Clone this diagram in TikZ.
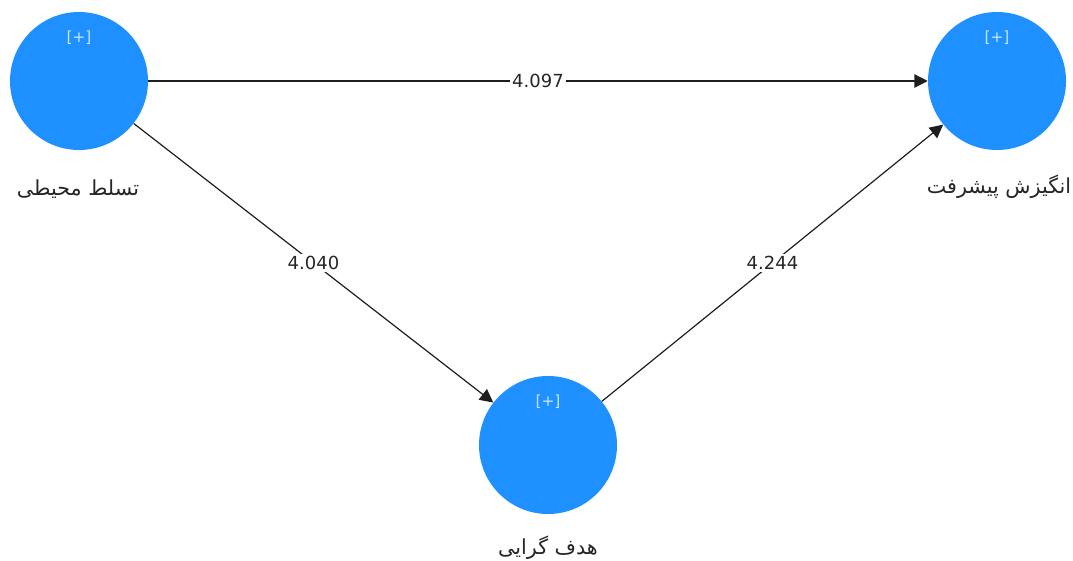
\documentclass[tikz,border=0pt]{standalone}
\usepackage{fontspec}
\setmainfont{DejaVu Sans}
\newfontfamily\arabicfont[Script=Arabic]{DejaVu Sans}
\TeXXeTstate=1
\usetikzlibrary{arrows.meta}
\definecolor{latent}{RGB}{30,144,255}
\definecolor{plusc}{RGB}{200,230,255}
\definecolor{linec}{RGB}{30,30,30}
\tikzset{
  latentvar/.style={circle, fill=latent, draw=none, minimum size=103.5pt, inner sep=0},
  plustext/.style={text=plusc, font=\fontsize{11.5}{13}\selectfont},
  namelabel/.style={font=\arabicfont\fontsize{15.5}{18}\selectfont, text=black!85},
  pathline/.style={draw=linec, line width=0.9pt, -{Triangle[length=10pt,width=10pt]}},
  coef/.style={fill=white, inner sep=1.5pt, font=\fontsize{13.5}{15}\selectfont, text=black!85}
}
\begin{document}
\begin{tikzpicture}[x=0.75pt,y=-0.75pt]
\useasboundingbox (0,0) rectangle (1073,560);
\node[latentvar] (env) at (79,81) {};
\node[latentvar] (mot) at (997,81) {};
\node[latentvar] (goal) at (548,445) {};
\node[plustext] (envp) at (79,38) {[+]};
\node[plustext] (motp) at (997,38) {[+]};
\node[plustext] (goalp) at (548,402) {[+]};
\node[namelabel] (envl) at (78,189) {\beginR تسلط محیطی\endR};
\node[namelabel] (motl) at (999,187) {\beginR انگیزش پیشرفت\endR};
\node[namelabel] (goall) at (548,548) {\beginR هدف گرایی\endR};
\draw[pathline] (env) -- node[coef, pos=0.5] {4.097} (mot);
\draw[pathline] (env) -- node[coef, pos=0.5] {4.040} (goal);
\draw[pathline] (goal) -- node[coef, pos=0.5] {4.244} (mot);
\end{tikzpicture}
\end{document}
